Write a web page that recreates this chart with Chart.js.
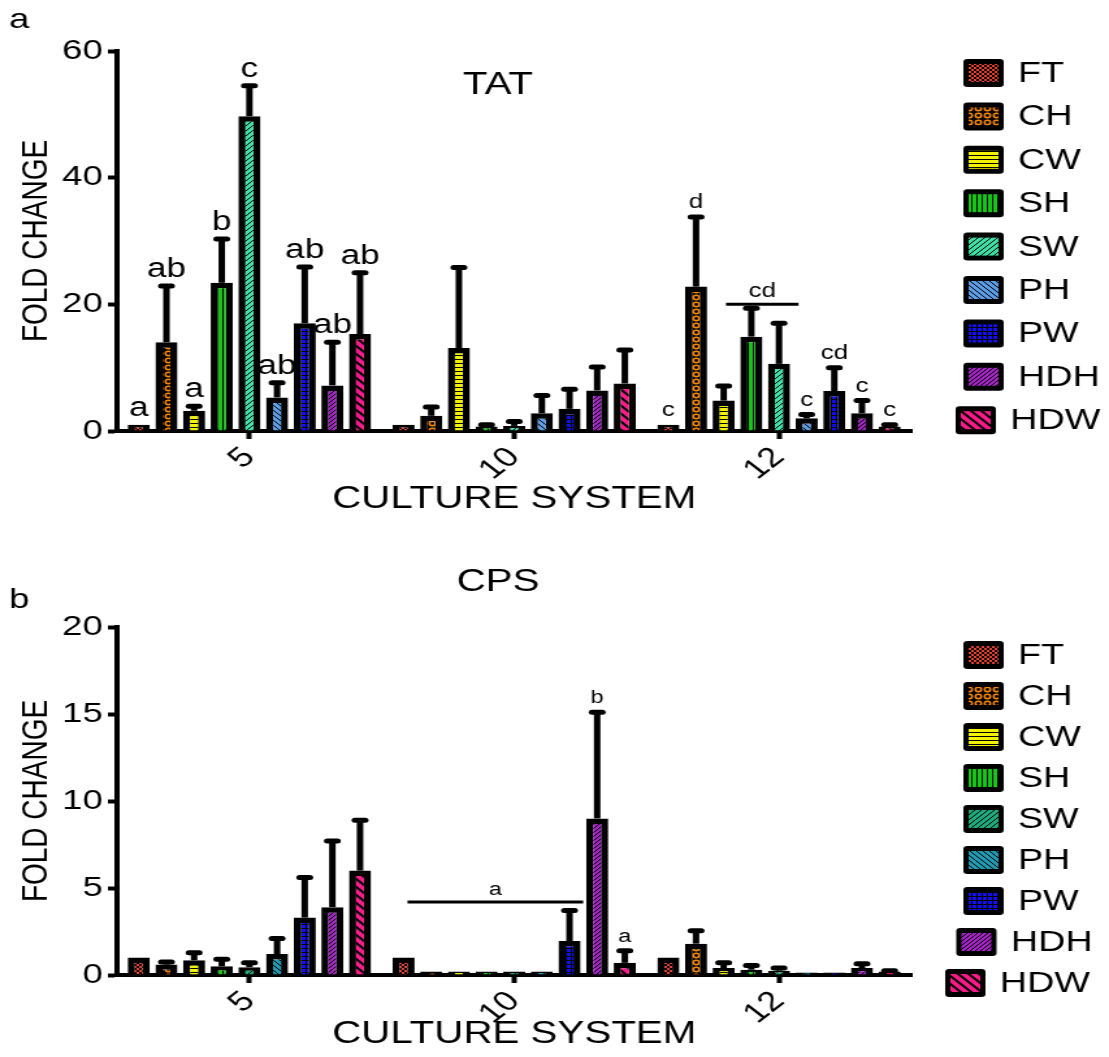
<!DOCTYPE html>
<html>
<head>
<meta charset="utf-8">
<script src="https://cdn.jsdelivr.net/npm/chart.js@4/dist/chart.umd.min.js"></script>
<style>
  body { margin: 0; background: #fff; }
  canvas { display: block; }
</style>
</head>
<body>
<!-- the original figure is stretched sideways, so the canvases are drawn narrow and widened by css -->
<canvas id="tatChart" width="853" height="525" style="width:1109px;height:525px"></canvas>
<canvas id="cpsChart" width="853" height="532" style="width:1109px;height:532px"></canvas>
<script>
const groups = ['5', '10', '12'];
const series = ['FT', 'CH', 'CW', 'SH', 'SW', 'PH', 'PW', 'HDH', 'HDW'];

// TAT fold change, one array per culture system (series order as above)
const tat5 = [1.0, 14.0, 3.2, 23.4, 49.7, 5.3, 17.0, 7.2, 15.3];
const tat10 = [1.0, 2.4, 13.1, 0.7, 0.8, 2.8, 3.5, 6.4, 7.5];
const tat12 = [1.0, 22.8, 4.8, 14.9, 10.6, 2.0, 6.3, 2.8, 0.7];
const tat5Err = [0, 8.9, 0.7, 6.9, 4.8, 2.3, 8.9, 6.8, 9.7];
const tat10Err = [0, 1.4, 12.7, 0.3, 0.7, 2.8, 3.1, 3.7, 5.3];
const tat12Err = [0, 11.0, 2.3, 4.5, 6.4, 0.6, 3.7, 2.0, 0.3];
const tat5Letters = ['a', 'ab', 'a', 'b', 'c', 'ab', 'ab', 'ab', 'ab'];
const tat10Letters = ['', '', '', '', '', '', '', '', ''];
const tat12Letters = ['c', 'd', '', '', '', 'c', 'cd', 'c', 'c'];
const tatTicks = [0, 20, 40, 60];
// [group, first series, last series, letter, level]
const tatBracket = [2, 3, 4, 'cd', 20];

// CPS fold change
const cps5 = [1.0, 0.6, 0.85, 0.5, 0.45, 1.2, 3.3, 3.9, 6.0];
const cps10 = [1.0, 0.2, 0.2, 0.2, 0.2, 0.2, 1.95, 9.0, 0.7];
const cps12 = [1.0, 1.8, 0.4, 0.3, 0.25, 0.15, 0.15, 0.4, 0.2];
const cps5Err = [0, 0.15, 0.43, 0.4, 0.25, 0.9, 2.3, 3.8, 2.9];
const cps10Err = [0, 0, 0, 0, 0, 0, 1.75, 6.1, 0.7];
const cps12Err = [0, 0.75, 0.3, 0.25, 0.15, 0, 0, 0.25, 0.05];
const cps5Letters = ['', '', '', '', '', '', '', '', ''];
const cps10Letters = ['', '', '', '', '', '', '', 'b', 'a'];
const cps12Letters = ['', '', '', '', '', '', '', '', ''];
const cpsTicks = [0, 5, 10, 15, 20];
const cpsBracket = [1, 0, 6, 'a', 4.2];

const tatColors = ['#e8402e', '#ff8a00', '#f2f200', '#16c616', '#3ddfa6', '#5a9de6', '#1010f0', '#a424c4', '#ff1a8c'];
const cpsColors = ['#e8402e', '#ff8a00', '#f2f200', '#16c616', '#1caa7c', '#1f9ab2', '#1010f0', '#a424c4', '#ff1a8c'];
const fills = ['mesh', 'rings', 'hlines', 'vlines', 'diag', 'back', 'grid', 'dense', 'thick'];

const FONT = '"Liberation Sans", Arial, sans-serif';
Chart.defaults.font.family = FONT;
Chart.defaults.color = '#000';

function makePattern(color, kind) {
  const s = { mesh: 4, rings: 7, hlines: 4, vlines: 4, diag: 5, back: 5, grid: 4, dense: 4, thick: 8 }[kind];
  const c = document.createElement('canvas');
  c.width = s;
  c.height = s;
  const g = c.getContext('2d');
  g.fillStyle = color;
  g.fillRect(0, 0, s, s);
  g.fillStyle = '#000';
  g.strokeStyle = '#000';
  g.lineWidth = 1;
  const slash = () => {
    g.beginPath();
    g.moveTo(0, s); g.lineTo(s, 0);
    g.moveTo(-1, 1); g.lineTo(1, -1);
    g.moveTo(s - 1, s + 1); g.lineTo(s + 1, s - 1);
    g.stroke();
  };
  const back = () => {
    g.beginPath();
    g.moveTo(0, 0); g.lineTo(s, s);
    g.moveTo(s - 1, -1); g.lineTo(s + 1, 1);
    g.moveTo(-1, s - 1); g.lineTo(1, s + 1);
    g.stroke();
  };
  if (kind === 'mesh') { slash(); back(); }
  if (kind === 'rings') {
    g.fillRect(0, 0, s, s);
    g.strokeStyle = color;
    g.lineWidth = 1.5;
    g.beginPath();
    g.arc(s / 2, s / 2, 2.2, 0, Math.PI * 2);
    g.stroke();
  }
  if (kind === 'hlines') g.fillRect(0, s - 1, s, 1);
  if (kind === 'vlines') g.fillRect(s - 1, 0, 1, s);
  if (kind === 'diag' || kind === 'dense') slash();
  if (kind === 'back') back();
  if (kind === 'grid') { g.fillRect(s - 1, 0, 1, s); g.fillRect(0, s - 1, s, 1); }
  if (kind === 'thick') { g.lineWidth = 2; back(); }
  return g.createPattern(c, 'repeat');
}

const extras = {
  id: 'extras',
  afterDatasetsDraw(chart, args, opts) {
    const ctx = chart.ctx;
    const y = chart.scales.y;
    ctx.save();
    ctx.strokeStyle = '#000';
    ctx.fillStyle = '#000';
    ctx.textAlign = 'center';
    ctx.textBaseline = 'alphabetic';
    chart.data.datasets.forEach((ds, di) => {
      chart.getDatasetMeta(di).data.forEach((bar, gi) => {
        const yTop = y.getPixelForValue(ds.data[gi] + ds.err[gi]);
        if (ds.err[gi] > 0) {
          ctx.lineWidth = 5;
          ctx.lineCap = 'butt';
          ctx.beginPath();
          ctx.moveTo(bar.x, bar.y);
          ctx.lineTo(bar.x, yTop);
          ctx.stroke();
          ctx.lineCap = 'round';
          ctx.beginPath();
          ctx.moveTo(bar.x - 4, yTop);
          ctx.lineTo(bar.x + 4, yTop);
          ctx.stroke();
        }
        const letter = ds.letters[gi];
        if (letter) {
          ctx.font = opts.letterSize[gi] + 'px ' + FONT;
          ctx.fillText(letter, bar.x, yTop - 9);
        }
      });
    });
    const [gi, s0, s1, text, level] = opts.bracket;
    const b0 = chart.getDatasetMeta(s0).data[gi];
    const b1 = chart.getDatasetMeta(s1).data[gi];
    const yy = y.getPixelForValue(level);
    const x0 = b0.x + opts.bracketEnds[0];
    const x1 = b1.x + opts.bracketEnds[1];
    ctx.lineWidth = 3;
    ctx.lineCap = 'butt';
    ctx.beginPath();
    ctx.moveTo(x0, yy);
    ctx.lineTo(x1, yy);
    ctx.stroke();
    ctx.font = opts.bracketSize + 'px ' + FONT;
    ctx.fillText(text, (x0 + x1) / 2, yy - 7);
    ctx.restore();
  },
  afterDraw(chart, args, opts) {
    const ctx = chart.ctx;
    const area = chart.chartArea;
    ctx.save();
    ctx.fillStyle = '#000';
    ctx.textBaseline = 'middle';
    ctx.textAlign = 'left';
    ctx.font = '28px ' + FONT;
    ctx.fillText(opts.panel, 7, opts.panelY);
    ctx.textAlign = 'center';
    ctx.font = '31px ' + FONT;
    ctx.fillText(opts.title, 383, opts.titleY);

    ctx.textAlign = 'left';
    ctx.font = '29px ' + FONT;
    series.forEach((name, i) => {
      const cy = opts.legendTop + i * opts.legendGap;
      const bx = area.right + 40 + opts.legendShift[i];
      ctx.fillStyle = '#000';
      ctx.beginPath();
      ctx.roundRect(bx, cy - 14, 31, 28, 3);
      ctx.fill();
      ctx.fillStyle = chart.data.datasets[i].backgroundColor;
      ctx.fillRect(bx + 4, cy - 9, 23, 18);
      ctx.fillStyle = '#000';
      ctx.fillText(name, bx + 42, cy + 1);
    });
    ctx.restore();
  }
};

function buildChart(id, cfg) {
  const datasets = series.map((name, i) => ({
    label: name,
    data: cfg.values.map(arr => arr[i]),
    err: cfg.errors.map(arr => arr[i]),
    letters: cfg.letters.map(arr => arr[i]),
    backgroundColor: makePattern(cfg.colors[i], fills[i]),
    borderColor: '#000',
    borderWidth: 5.5,
    borderSkipped: 'start',
    barPercentage: 0.8,
    categoryPercentage: 0.94
  }));

  return new Chart(document.getElementById(id), {
    type: 'bar',
    data: { labels: groups, datasets },
    plugins: [extras],
    options: {
      responsive: false,
      animation: false,
      layout: { padding: { top: cfg.top, right: 152, bottom: 0, left: 0 } },
      plugins: {
        legend: { display: false },
        tooltip: { enabled: false },
        extras: cfg.extras
      },
      scales: {
        x: {
          grid: { drawOnChartArea: false, offset: false, tickLength: 8, tickWidth: 4, tickColor: '#000' },
          border: { color: '#000', width: 4 },
          ticks: { font: { size: 28 }, color: '#000', minRotation: 45, maxRotation: 45, padding: 2 },
          title: { display: true, text: 'CULTURE SYSTEM', font: { size: 31 }, color: '#000', padding: { top: 0, bottom: cfg.xTitlePad } },
          afterFit(scale) { scale.height = cfg.xHeight; }
        },
        y: {
          min: 0,
          max: cfg.ticks[cfg.ticks.length - 1],
          afterBuildTicks(scale) { scale.ticks = cfg.ticks.map(v => ({ value: v })); },
          grid: { drawOnChartArea: false, tickLength: 7, tickWidth: 4, tickColor: '#000' },
          border: { color: '#000', width: 4 },
          ticks: { font: { size: 28 }, color: '#000', padding: 4 },
          title: { display: true, text: 'FOLD CHANGE', font: { size: 28 }, color: '#000', padding: { top: 11, bottom: 0 } },
          afterFit(scale) { scale.width = 90; }
        }
      }
    }
  });
}

buildChart('tatChart', {
  values: [tat5, tat10, tat12],
  errors: [tat5Err, tat10Err, tat12Err],
  letters: [tat5Letters, tat10Letters, tat12Letters],
  ticks: tatTicks,
  colors: tatColors,
  top: 51,
  xHeight: 94,
  xTitlePad: 7,
  extras: {
    panel: 'a', panelY: 20, title: 'TAT', titleY: 85,
    legendTop: 73, legendGap: 43.4, legendShift: [0, 0, 0, 0, 0, 0, 0, 0, -6],
    letterSize: [27, 27, 20],
    bracket: tatBracket, bracketEnds: [-19.5, 15], bracketSize: 20
  }
});

buildChart('cpsChart', {
  values: [cps5, cps10, cps12],
  errors: [cps5Err, cps10Err, cps12Err],
  letters: [cps5Letters, cps10Letters, cps12Letters],
  ticks: cpsTicks,
  colors: cpsColors,
  top: 102,
  xHeight: 82,
  xTitlePad: 4,
  extras: {
    panel: 'b', panelY: 75, title: 'CPS', titleY: 57,
    legendTop: 130, legendGap: 41, legendShift: [0, 0, 0, 0, 0, 0, 0, -5.5, -14],
    letterSize: [18, 18, 18],
    bracket: cpsBracket, bracketEnds: [3, 10.5], bracketSize: 18
  }
});
</script>
</body>
</html>
